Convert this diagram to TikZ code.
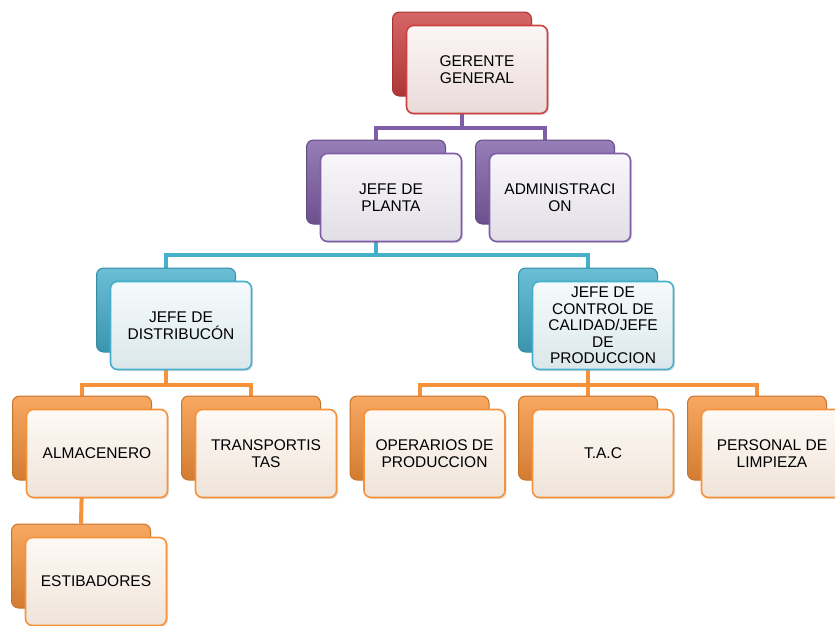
\documentclass[tikz,border=0pt]{standalone}
\usepackage{fontspec}
\setmainfont{Liberation Sans}
\usetikzlibrary{shadows}
\definecolor{cred}{HTML}{CC4040}
\definecolor{cpur}{HTML}{7E5EA6}
\definecolor{caqua}{HTML}{45AFCC}
\definecolor{corg}{HTML}{F7923A}
\pgfdeclarelayer{bg}
\pgfsetlayers{bg,main}
\tikzset{
  backbox/.style={rounded corners=7pt, minimum width=139pt, minimum height=84pt,
    draw=#1!80!black, line width=1pt, top color=#1!80!white, middle color=#1, bottom color=#1!85!black},
  frontbox/.style={rounded corners=7pt, minimum width=141pt, minimum height=88pt,
    draw=#1, line width=1.6pt, top color=#1!5!white, bottom color=#1!12!white!94!black,
    align=center, inner sep=2pt, text=black, font=\fontsize{15.5}{16.5}\selectfont,
    drop shadow={opacity=0.25, shadow xshift=1.5pt, shadow yshift=-1.5pt}},
  conn/.style={draw=#1, line width=4pt}
}
\begin{document}
\begin{tikzpicture}[x=1pt,y=-1pt]
\useasboundingbox (0,0) rectangle (835,625);
% level 1
\node[backbox=cred] (gB) at (462,54) {};
\node[frontbox=cred] (g) at (477,69.5) {GERENTE\\GENERAL};
% level 2
\node[backbox=cpur] (pB) at (376,182) {};
\node[frontbox=cpur] (p) at (391,197.5) {JEFE DE\\PLANTA};
\node[backbox=cpur] (aB) at (545,182) {};
\node[frontbox=cpur] (a) at (560,197.5) {ADMINISTRACI\\ON};
% level 3
\node[backbox=caqua] (dB) at (166,310) {};
\node[frontbox=caqua] (d) at (181,325.5) {JEFE DE\\DISTRIBUCÓN};
\node[backbox=caqua] (cB) at (588,310) {};
\node[frontbox=caqua] (c) at (603,325.5) {JEFE DE\\CONTROL DE\\CALIDAD/JEFE\\DE\\PRODUCCION};
% level 4
\node[backbox=corg] (alB) at (82,438) {};
\node[frontbox=corg] (al) at (97,453.5) {ALMACENERO};
\node[backbox=corg] (tB) at (251,438) {};
\node[frontbox=corg] (t) at (266,453.5) {TRANSPORTIS\\TAS};
\node[backbox=corg] (oB) at (419.5,438) {};
\node[frontbox=corg] (o) at (434.5,453.5) {OPERARIOS DE\\PRODUCCION};
\node[backbox=corg] (tacB) at (588,438) {};
\node[frontbox=corg] (tac) at (603,453.5) {T.A.C};
\node[backbox=corg] (plB) at (757,438) {};
\node[frontbox=corg] (pl) at (772,453.5) {PERSONAL DE\\LIMPIEZA};
% level 5
\node[backbox=corg] (eB) at (81,566) {};
\node[frontbox=corg] (e) at (96,581.5) {ESTIBADORES};
% connectors
\begin{pgfonlayer}{bg}
\draw[conn=cpur] (gB.south) -- (gB.south |- 0,128);
\draw[conn=cpur] (pB.north) |- (aB.north |- 0,128) -- (aB.north);
\draw[conn=caqua] (pB.south) -- (pB.south |- 0,255);
\draw[conn=caqua] (dB.north) |- (cB.north |- 0,255) -- (cB.north);
\draw[conn=corg] (dB.south) -- (dB.south |- 0,385);
\draw[conn=corg] (alB.north) |- (tB.north |- 0,385) -- (tB.north);
\draw[conn=corg] (cB.south) -- (cB.south |- 0,385);
\draw[conn=corg] (oB.north) |- (plB.north |- 0,385) -- (plB.north);
\draw[conn=corg] (tacB.north) -- (tacB.north |- 0,385);
\draw[conn=corg] (alB.south) -- (eB.north);
\end{pgfonlayer}
\end{tikzpicture}
\end{document}
